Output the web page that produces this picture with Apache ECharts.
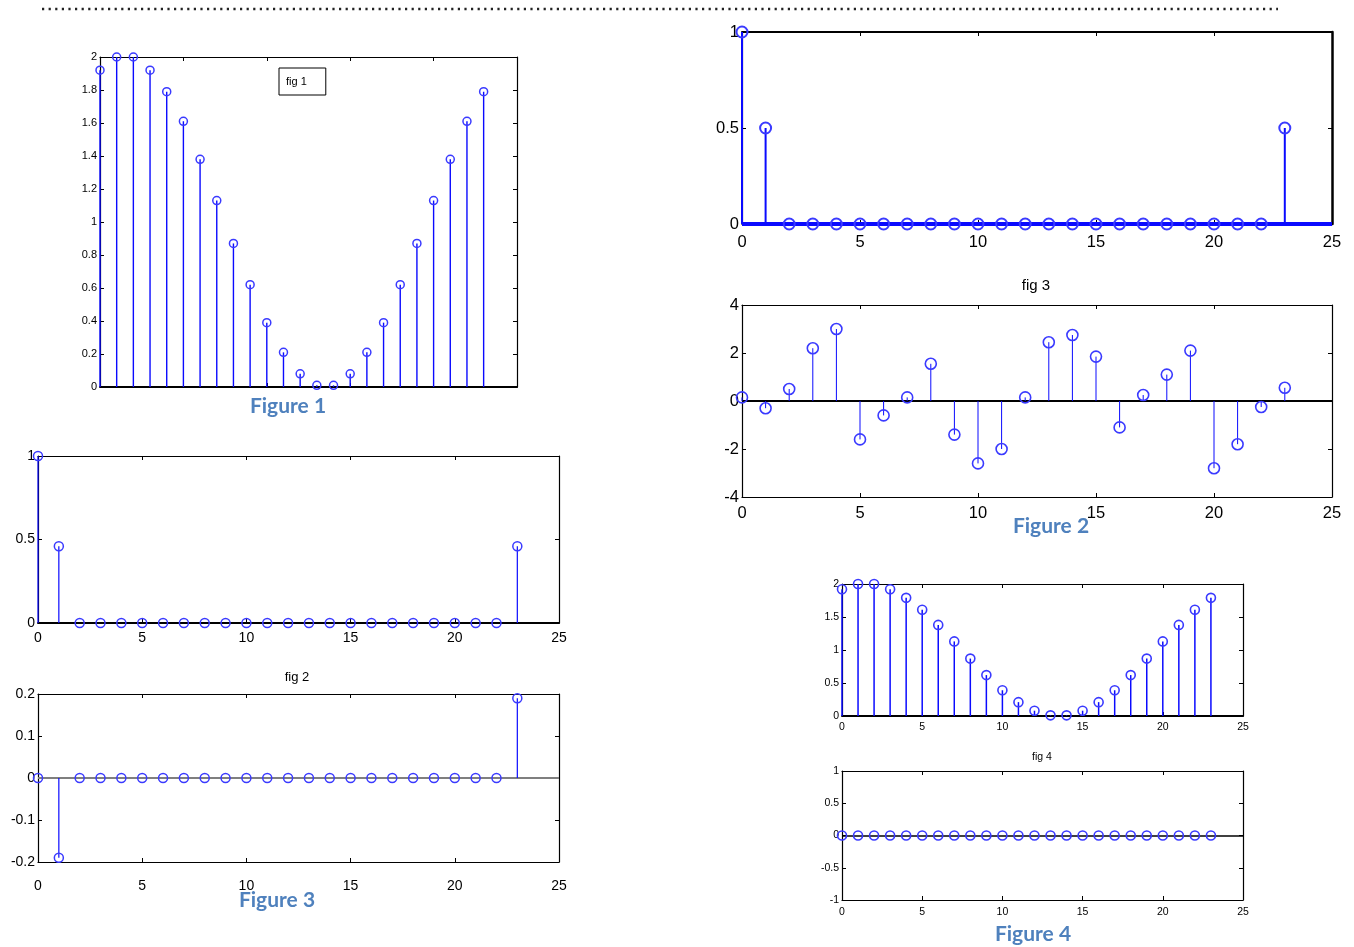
<!DOCTYPE html>
<html>
<head>
<meta charset="utf-8">
<script src="https://cdn.jsdelivr.net/npm/echarts@6/dist/echarts.min.js"></script>
<style>
html,body{margin:0;padding:0;background:#fff;}
#chart{width:1354px;height:947px;}
</style>
</head>
<body>
<div id="chart"></div>
<script>
// ---- data ----
const sampleIndex = [0,1,2,3,4,5,6,7,8,9,10,11,12,13,14,15,16,17,18,19,20,21,22,23];

const fig1Values = [1.92,2.0,2.0,1.92,1.79,1.61,1.38,1.13,0.87,0.62,0.39,0.21,0.08,0.01,0.01,0.08,0.21,0.39,0.62,0.87,1.13,1.38,1.61,1.79];

const fig2TopValues = [1,0.46,0,0,0,0,0,0,0,0,0,0,0,0,0,0,0,0,0,0,0,0,0,0.46];
const fig2BottomValues = [0,-0.19,0,0,0,0,0,0,0,0,0,0,0,0,0,0,0,0,0,0,0,0,0,0.19];

const fig3TopValues = [1,0.5,0,0,0,0,0,0,0,0,0,0,0,0,0,0,0,0,0,0,0,0,0,0.5];
const fig3Values = [0.15,-0.3,0.5,2.2,3.0,-1.6,-0.6,0.15,1.55,-1.4,-2.6,-2.0,0.15,2.45,2.75,1.85,-1.1,0.25,1.1,2.1,-2.8,-1.8,-0.25,0.55];

const fig4TopValues = [1.92,2.0,2.0,1.92,1.79,1.61,1.38,1.13,0.87,0.62,0.39,0.21,0.08,0.01,0.01,0.08,0.21,0.39,0.62,0.87,1.13,1.38,1.61,1.79];
const fig4BottomValues = [0,0,0,0,0,0,0,0,0,0,0,0,0,0,0,0,0,0,0,0,0,0,0,0];

// ---- layout ----
const FONT = 'Liberation Sans';
const grids = [], xAxes = [], yAxes = [], series = [];

function addPanel(p) {
  const g = grids.length;
  grids.push({left: p.rect[0], top: p.rect[1], width: p.rect[2], height: p.rect[3], outerBoundsMode: 'none'});
  const tick = {show: true, inside: true, length: p.tickLen || 4, lineStyle: {color: '#000', width: 1}};
  const xBase = {type: 'value', gridIndex: g, min: 0, max: 25, interval: 5, splitLine: {show: false}};
  const yBase = {type: 'value', gridIndex: g, min: p.y[0], max: p.y[1], interval: p.y[2], splitLine: {show: false}};
  xAxes.push(Object.assign({}, xBase, {
    position: 'bottom',
    axisLine: {show: true, onZero: false, lineStyle: {color: '#000', width: p.bottomW || 1.2}},
    axisTick: tick,
    axisLabel: {show: p.xLabels !== false, color: '#000', fontFamily: FONT, fontSize: p.fs, margin: p.xMargin || 6}
  }));
  xAxes.push(Object.assign({}, xBase, {
    position: 'top',
    axisLine: {show: true, onZero: false, lineStyle: {color: '#000', width: p.topW || 1.2}},
    axisTick: tick, axisLabel: {show: false}
  }));
  yAxes.push(Object.assign({}, yBase, {
    position: 'left',
    axisLine: {show: true, onZero: false, lineStyle: {color: '#000', width: 1.2}},
    axisTick: tick,
    axisLabel: {color: '#000', fontFamily: FONT, fontSize: p.fs, margin: p.yMargin || 3}
  }));
  yAxes.push(Object.assign({}, yBase, {
    position: 'right',
    axisLine: {show: true, onZero: false, lineStyle: {color: '#000', width: p.rightW || 1.2}},
    axisTick: tick, axisLabel: {show: false}
  }));
  const s = {
    type: 'custom',
    name: p.name || ('panel' + g),
    xAxisIndex: 2 * g, yAxisIndex: 2 * g,
    data: sampleIndex.map((x, i) => [x, p.values[i]]),
    z: 5,
    renderItem: function (params, api) {
      const x = api.value(0), v = api.value(1);
      const p0 = api.coord([x, 0]);
      const p1 = api.coord([x, v]);
      return {
        type: 'group',
        children: [
          {type: 'line', shape: {x1: p0[0], y1: p0[1], x2: p1[0], y2: p1[1]},
           style: {stroke: '#0a0aff', lineWidth: p.stemW || 1.2}},
          {type: 'circle', shape: {cx: p1[0], cy: p1[1], r: p.r || 4},
           style: {fill: 'none', stroke: '#3a3aff', lineWidth: p.markW || 1.5}}
        ]
      };
    }
  };
  if (p.baseline) {
    s.markLine = {
      silent: true, symbol: 'none', label: {show: false},
      lineStyle: {type: 'solid', color: p.baseline.color, width: p.baseline.width},
      data: [{yAxis: 0}]
    };
  }
  series.push(s);
}

// Figure 1 (top-left)
addPanel({name: 'fig 1', rect: [100, 57, 417, 330], y: [0, 2, 0.2], values: fig1Values, fs: 11,
  xLabels: false, r: 4, stemW: 1.4, markW: 1.5, bottomW: 2});
// Figure 3 panels (left)
addPanel({rect: [38, 456, 521, 167], y: [0, 1, 0.5], values: fig2TopValues, fs: 14, r: 4.5, stemW: 1.2,
  bottomW: 2, xMargin: 8});
addPanel({rect: [38, 694, 521, 168], y: [-0.2, 0.2, 0.1], values: fig2BottomValues, fs: 14, r: 4.5, stemW: 1.2,
  xMargin: 17, baseline: {color: '#7f7f7f', width: 2}});
// Figure 2 panels (right)
addPanel({rect: [742, 32, 590, 192], y: [0, 1, 0.5], values: fig3TopValues, fs: 16.5, r: 5.5, stemW: 2, markW: 2,
  xMargin: 10, rightW: 2.5, topW: 2, baseline: {color: '#0a0aff', width: 4}});
addPanel({rect: [742, 305, 590, 192], y: [-4, 4, 2], values: fig3Values, fs: 16.5, r: 5.5, stemW: 1, markW: 1.6,
  xMargin: 8, baseline: {color: '#000', width: 2}});
// Figure 4 panels (bottom-right)
addPanel({rect: [842, 584, 401, 132], y: [0, 2, 0.5], values: fig4TopValues, fs: 10.5, r: 4.5, stemW: 1.5, markW: 1.6,
  bottomW: 2, xMargin: 6});
addPanel({rect: [842, 771, 401, 129], y: [-1, 1, 0.5], values: fig4BottomValues, fs: 10.5, r: 4.5, markW: 1.6,
  xMargin: 7, baseline: {color: '#000', width: 1.5}});

const captionFont = 'bold 21px Lato';
const option = {
  animation: false,
  backgroundColor: '#fff',
  grid: grids,
  xAxis: xAxes,
  yAxis: yAxes,
  series: series,
  legend: {
    data: ['fig 1'],
    left: 279, top: 68,
    icon: 'none', itemWidth: 0, itemHeight: 0,
    borderColor: '#000', borderWidth: 1, borderRadius: 0,
    padding: [8, 19, 8, 2],
    textStyle: {color: '#000', fontFamily: FONT, fontSize: 11}
  },
  graphic: [
    {type: 'line', shape: {x1: 42, y1: 9, x2: 1278, y2: 9},
     style: {stroke: '#222', lineWidth: 2.4, lineDash: [2.2, 4.4]}},
    {type: 'text', x: 288, y: 406, style: {text: 'Figure 1', font: captionFont, fill: '#4f81bd', align: 'center', verticalAlign: 'middle'}},
    {type: 'text', x: 1051, y: 526, style: {text: 'Figure 2', font: captionFont, fill: '#4f81bd', align: 'center', verticalAlign: 'middle'}},
    {type: 'text', x: 277, y: 900, style: {text: 'Figure 3', font: captionFont, fill: '#4f81bd', align: 'center', verticalAlign: 'middle'}},
    {type: 'text', x: 1033, y: 934, style: {text: 'Figure 4', font: captionFont, fill: '#4f81bd', align: 'center', verticalAlign: 'middle'}},
    {type: 'text', x: 297, y: 677, style: {text: 'fig 2', font: '13px "Liberation Sans"', fill: '#000', align: 'center', verticalAlign: 'middle'}},
    {type: 'text', x: 1036, y: 286, style: {text: 'fig 3', font: '15px "Liberation Sans"', fill: '#000', align: 'center', verticalAlign: 'middle'}},
    {type: 'text', x: 1042, y: 757, style: {text: 'fig 4', font: '10.5px "Liberation Sans"', fill: '#000', align: 'center', verticalAlign: 'middle'}}
  ]
};

const chart = echarts.init(document.getElementById('chart'), null, {renderer: 'canvas'});
chart.setOption(option);
</script>
</body>
</html>
